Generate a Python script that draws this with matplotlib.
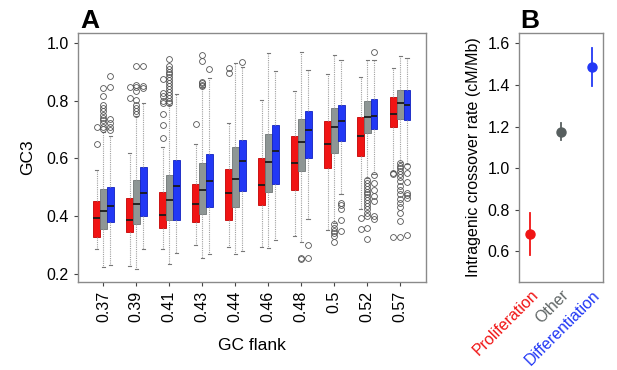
import matplotlib
matplotlib.use("Agg")
import matplotlib.pyplot as plt

plt.rcParams["font.family"] = ["Liberation Sans", "DejaVu Sans"]

# Panel A: GC3 by GC flank bins
gc_flank = ["0.37", "0.39", "0.41", "0.43", "0.44", "0.46", "0.48", "0.5", "0.52", "0.57"]

# each row: whislo, q1, median, q3, whishi
prolif_stats = [
    [0.285, 0.329, 0.394, 0.451, 0.560],
    [0.228, 0.346, 0.388, 0.461, 0.620],
    [0.287, 0.360, 0.404, 0.482, 0.640],
    [0.300, 0.378, 0.443, 0.511, 0.648],
    [0.293, 0.388, 0.480, 0.563, 0.723],
    [0.294, 0.438, 0.509, 0.601, 0.802],
    [0.331, 0.492, 0.583, 0.677, 0.833],
    [0.352, 0.566, 0.649, 0.728, 0.892],
    [0.423, 0.607, 0.676, 0.743, 0.880],
    [0.557, 0.710, 0.753, 0.811, 0.911],
]
prolif_fliers = [
    [0.709, 0.649],
    [0.848, 0.810],
    [0.875, 0.825, 0.815, 0.800, 0.790, 0.755, 0.715, 0.669],
    [0.719],
    [0.911, 0.894],
    [],
    [],
    [],
    [0.393, 0.357],
    [0.549, 0.544, 0.328],
]

other_stats = [
    [0.225, 0.357, 0.416, 0.494, 0.690],
    [0.216, 0.374, 0.443, 0.524, 0.745],
    [0.235, 0.388, 0.457, 0.542, 0.785],
    [0.256, 0.408, 0.489, 0.585, 0.845],
    [0.270, 0.430, 0.530, 0.638, 0.931],
    [0.289, 0.483, 0.587, 0.685, 0.963],
    [0.310, 0.555, 0.656, 0.737, 0.967],
    [0.377, 0.618, 0.707, 0.774, 0.957],
    [0.532, 0.687, 0.743, 0.800, 0.940],
    [0.586, 0.736, 0.791, 0.837, 0.955],
]
other_fliers = [
    [0.843, 0.814, 0.785, 0.774, 0.762, 0.750, 0.741, 0.733, 0.722, 0.710, 0.702],
    [0.921, 0.854, 0.848, 0.834, 0.802, 0.785, 0.774, 0.762, 0.752],
    [0.945, 0.920, 0.910, 0.900, 0.890, 0.880, 0.870, 0.860, 0.850, 0.840,
     0.830, 0.820, 0.810, 0.800, 0.793],
    [0.957, 0.935, 0.865, 0.860, 0.855, 0.850],
    [],
    [],
    [0.255, 0.250],
    [0.371, 0.360, 0.350, 0.340, 0.330, 0.310],
    [0.526, 0.515, 0.505, 0.495, 0.485, 0.475, 0.465, 0.455, 0.445, 0.435,
     0.425, 0.410, 0.400, 0.360, 0.320],
    [0.584, 0.575, 0.565, 0.555, 0.545, 0.535, 0.520, 0.505, 0.490, 0.475,
     0.460, 0.445, 0.430, 0.410, 0.383, 0.328],
]

diff_stats = [
    [0.231, 0.380, 0.436, 0.502, 0.678],
    [0.287, 0.402, 0.480, 0.570, 0.791],
    [0.274, 0.388, 0.505, 0.594, 0.823],
    [0.270, 0.432, 0.520, 0.615, 0.877],
    [0.279, 0.488, 0.591, 0.663, 0.915],
    [0.317, 0.510, 0.627, 0.714, 0.903],
    [0.391, 0.601, 0.697, 0.762, 0.906],
    [0.475, 0.659, 0.730, 0.785, 0.940],
    [0.547, 0.701, 0.747, 0.805, 0.940],
    [0.582, 0.734, 0.786, 0.837, 0.946],
]
diff_fliers = [
    [0.885, 0.848, 0.737, 0.722, 0.710, 0.699],
    [0.921, 0.851, 0.843],
    [],
    [0.908],
    [0.934],
    [],
    [0.301, 0.255],
    [0.446, 0.440, 0.423, 0.385, 0.350],
    [0.967, 0.541, 0.515, 0.492, 0.469, 0.454, 0.402, 0.389],
    [0.575, 0.549, 0.518, 0.480, 0.472, 0.461, 0.333],
]

# Panel B: intragenic crossover rate
groups_b = ["Proliferation", "Other", "Differentiation"]
rate_mean = [0.685, 1.175, 1.487]
rate_low = [0.585, 1.135, 1.395]
rate_high = [0.785, 1.215, 1.578]

RED = "#f01414"
GRAY = "#8e9695"
BLUE = "#2238f5"
B_COLORS = ["#f01414", "#575f5f", "#2238f5"]
LABEL_COLORS = ["#f01414", "#606666", "#2238f5"]
FRAME = "#8a8a8a"


def make_stats(stats, fliers):
    out = []
    for (lo, q1, med, q3, hi), fl in zip(stats, fliers):
        out.append({"whislo": lo, "q1": q1, "med": med, "q3": q3,
                    "whishi": hi, "fliers": fl})
    return out


fig = plt.figure(figsize=(6.17, 3.70), dpi=100)
ax = fig.add_axes([0.1264, 0.2378, 0.5640, 0.6722])
axb = fig.add_axes([0.8412, 0.2387, 0.1361, 0.6713])

pos = list(range(1, len(gc_flank) + 1))
w = 0.21
for off, stats, fliers, col, edge in [
    (-0.205, prolif_stats, prolif_fliers, RED, "#c40000"),
    (0.0, other_stats, other_fliers, GRAY, "#6e7575"),
    (0.205, diff_stats, diff_fliers, BLUE, "#1020c0"),
]:
    ax.bxp(make_stats(stats, fliers), positions=[p + off for p in pos],
           widths=w, capwidths=w * 0.45, patch_artist=True, manage_ticks=False,
           boxprops=dict(facecolor=col, edgecolor=edge, linewidth=0.6),
           medianprops=dict(color="#1a1a1a", linewidth=1.3),
           whiskerprops=dict(color="#a0a0a0", linestyle=(0, (1, 1)), linewidth=0.8),
           capprops=dict(color="#777777", linewidth=0.8),
           flierprops=dict(marker="o", markersize=4.2, markerfacecolor="none",
                           markeredgecolor="#555555", markeredgewidth=0.6))

ax.set_xlim(0.23, 10.78)
ax.set_ylim(0.172, 1.0325)
ax.set_xticks(pos)
ax.set_xticklabels(gc_flank, rotation=90, fontsize=11.5)
ax.set_yticks([0.2, 0.4, 0.6, 0.8, 1.0])
ax.set_yticklabels(["0.2", "0.4", "0.6", "0.8", "1.0"], fontsize=11.5)
ax.set_ylabel("GC3", fontsize=12.5, labelpad=8)
ax.set_xlabel("GC flank", fontsize=12.5, labelpad=11)
ax.tick_params(length=3, color="#444444", width=0.8)
for s in ax.spines.values():
    s.set_color(FRAME)
    s.set_linewidth(1.0)

# Panel B
xb = [1, 2, 3]
for x, m, lo, hi, c in zip(xb, rate_mean, rate_low, rate_high, B_COLORS):
    axb.plot([x, x], [lo, hi], color=c, linewidth=1.3)
    axb.plot(x, m, "o", color=c, markersize=6.5)
axb.set_xlim(0.63, 3.37)
axb.set_ylim(0.455, 1.648)
axb.set_yticks([0.6, 0.8, 1.0, 1.2, 1.4, 1.6])
axb.set_yticklabels(["0.6", "0.8", "1.0", "1.2", "1.4", "1.6"], fontsize=11.5)
axb.set_xticks(xb)
axb.set_xticklabels(groups_b, rotation=45, ha="right", rotation_mode="anchor",
                    fontsize=11.5)
for lab, c in zip(axb.get_xticklabels(), LABEL_COLORS):
    lab.set_color(c)
axb.tick_params(axis="y", length=3, color="#444444", width=0.8)
axb.tick_params(axis="x", length=0, pad=4)
axb.set_ylabel("Intragenic crossover rate (cM/Mb)", fontsize=11.5, labelpad=5)
for s in axb.spines.values():
    s.set_color(FRAME)
    s.set_linewidth(1.0)

fig.text(0.131, 0.925, "A", fontsize=19, fontweight="bold")
fig.text(0.844, 0.925, "B", fontsize=19, fontweight="bold")

fig.savefig("out.png", dpi=100)
